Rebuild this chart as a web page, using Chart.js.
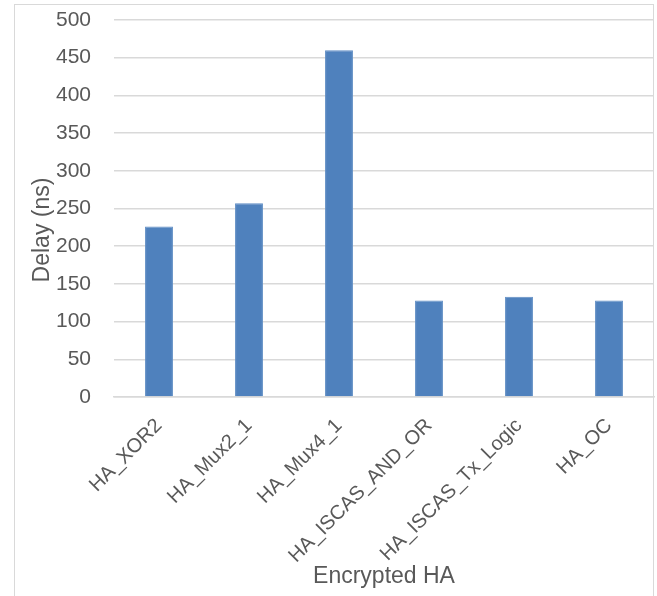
<!DOCTYPE html>
<html>
<head>
<meta charset="utf-8">
<script src="https://cdn.jsdelivr.net/npm/chart.js@4/dist/chart.umd.min.js"></script>
<style>
  html, body { margin: 0; padding: 0; background: #ffffff; overflow: hidden; }
  #frame {
    position: absolute; left: 14px; top: 4px; width: 640px; height: 620px;
    border: 1.5px solid #d9d9d9; box-sizing: border-box;
  }
  #wrap { position: absolute; left: 0; top: 0; width: 657px; height: 596px; }
</style>
</head>
<body>
<div id="frame"></div>
<div id="wrap"><canvas id="c" width="657" height="596"></canvas></div>
<script>
// Delay of each encrypted half-adder variant
const categories = ['HA_XOR2', 'HA_Mux2_1', 'HA_Mux4_1', 'HA_ISCAS_AND_OR', 'HA_ISCAS_Tx_Logic', 'HA_OC'];
const delayNs = [226, 257, 460, 128, 133, 128];
const yTicks = [0, 50, 100, 150, 200, 250, 300, 350, 400, 450, 500];

const FONT = "'Liberation Sans', Arial, sans-serif";
const TEXT = '#595959';
const GRID = '#d9d9d9';

// Rotated y-axis title, placed by hand beside the tick labels
const yTitlePlugin = {
  id: 'yTitle',
  afterDraw(chart) {
    const ctx = chart.ctx;
    ctx.save();
    ctx.translate(43, 230);
    ctx.rotate(-Math.PI / 2);
    ctx.font = '23px ' + FONT;
    ctx.fillStyle = TEXT;
    ctx.textAlign = 'center';
    ctx.textBaseline = 'middle';
    ctx.fillText('Delay (ns)', 0, 0);
    ctx.restore();
  }
};

new Chart(document.getElementById('c'), {
  type: 'bar',
  data: {
    labels: categories,
    datasets: [{
      label: 'Delay (ns)',
      data: delayNs,
      backgroundColor: '#4f81bd',
      borderColor: '#5f8dc4',
      borderWidth: 1,
      barPercentage: 0.31,
      categoryPercentage: 1.0
    }]
  },
  options: {
    responsive: false,
    devicePixelRatio: 1,
    animation: false,
    layout: { padding: { left: 0, right: 3, top: 20, bottom: 0 } },
    plugins: {
      legend: { display: false },
      tooltip: { enabled: false }
    },
    scales: {
      x: {
        grid: { display: false, drawTicks: false },
        border: { display: true, color: GRID, width: 1.5 },
        ticks: {
          color: TEXT,
          font: { family: FONT, size: 20 },
          minRotation: 45,
          maxRotation: 45,
          padding: 17,
          autoSkip: false
        },
        title: {
          display: true,
          text: 'Encrypted HA',
          color: TEXT,
          font: { family: FONT, size: 23 },
          padding: { top: 0, bottom: 6 }
        },
        afterFit(scale) { scale.height = 199; }
      },
      y: {
        min: 0,
        max: 500,
        afterBuildTicks(scale) { scale.ticks = yTicks.map(v => ({ value: v })); },
        grid: { color: GRID, lineWidth: 1.5, drawTicks: false },
        border: { display: false },
        ticks: {
          color: TEXT,
          font: { family: FONT, size: 21 },
          padding: 23
        },
        afterFit(scale) {
          scale.width = 114;
          // the tick gap should not push the plot area down
          scale.paddingTop = 0;
          scale.paddingBottom = 0;
        }
      }
    }
  },
  plugins: [yTitlePlugin]
});
</script>
</body>
</html>
